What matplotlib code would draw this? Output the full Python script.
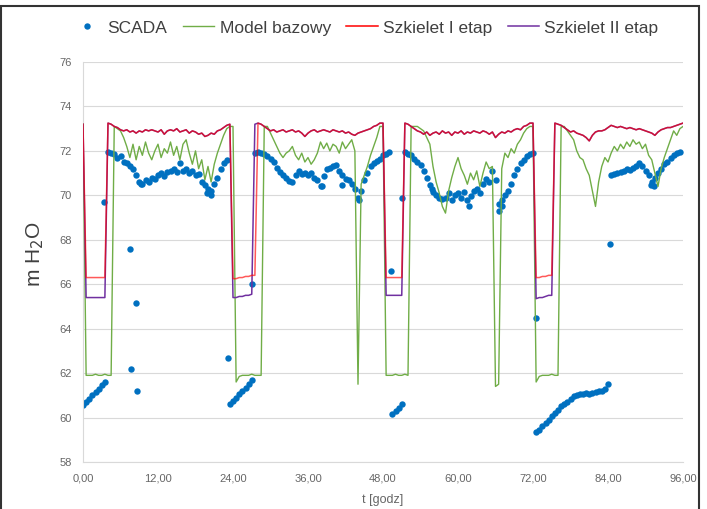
import numpy as np
import matplotlib.pyplot as plt
from matplotlib.patches import Rectangle
from matplotlib.lines import Line2D

plt.rcParams["font.family"] = ["Liberation Sans", "DejaVu Sans"]

# time axis, 30 min step
hours = np.arange(0, 96.5, 0.5)

# SCADA measurements (m H2O)
scada = [
    60.55, 60.7, 60.85, 61.0, 61.15, 61.3, 61.45, 61.6, 71.95, 71.9, 71.85, 71.7,
    71.75, 71.5, 71.45, 71.3, 71.2, 70.9, 70.6, 70.5, 70.7, 70.6, 70.8, 70.75,
    70.9, 71.0, 70.85, 71.05, 71.1, 71.2, 71.05, 71.45, 71.1, 71.2, 71.0, 71.1,
    70.9, 70.95, 70.6, 70.45, 70.3, 70.2, 70.5, 70.8, 71.2, 71.45, 71.6, 60.6,
    60.75, 60.9, 61.05, 61.2, 61.35, 61.5, 61.7, 71.9, 71.95, 71.9, 71.85, 71.75,
    71.65, 71.5, 71.25, 71.05, 70.9, 70.8, 70.65, 70.6, 70.9, 71.1, 70.95, 71.0,
    70.9, 71.0, 70.8, 70.7, 70.4, 70.85, 71.2, 71.25, 71.3, 71.35, 71.1, 70.9,
    70.75, 70.7, 70.5, 70.3, 69.9, 70.2, 70.7, 71.0, 71.3, 71.45, 71.55, 71.65,
    71.8, 71.85, 71.95, 60.15, 60.3, 60.45, 60.6, 71.95, 71.85, 71.8, 71.65, 71.5,
    71.35, 71.1, 70.8, 70.45, 70.15, 70.0, 69.9, 69.85, 69.9, 70.1, 69.8, 70.0,
    70.1, 69.9, 70.15, 69.8, 69.95, 70.2, 70.3, 70.1, 70.5, 70.75, 70.6, 71.1,
    70.7, 69.6, 69.8, 70.0, 70.2, 70.5, 70.9, 71.2, 71.45, 71.6, 71.75, 71.85,
    71.9, 59.35, 59.45, 59.6, 59.75, 59.9, 60.05, 60.2, 60.35, 60.5, 60.6, 60.7,
    60.85, 60.95, 61.0, 61.05, 61.05, 61.1, 61.05, 61.1, 61.15, 61.2, 61.2, 61.3,
    61.5, 70.9, 70.95, 71.0, 71.05, 71.1, 71.2, 71.15, 71.25, 71.3, 71.45, 71.3,
    71.1, 70.9, 70.6, 70.8, 71.0, 71.2, 71.4, 71.5, 71.7, 71.8, 71.9, 71.95,
    np.nan,
]
# single SCADA readings
scada_extra_t = [3.4, 7.5, 7.7, 8.4, 8.7, 9.2, 19.8, 20.4, 23.2, 27.1, 38.3, 41.5,
                 44.2, 49.2, 51.0, 55.8, 61.8, 66.6, 67.0, 72.4, 84.3, 90.8, 91.3]
scada_extra_v = [69.7, 67.6, 62.2, 65.15, 61.2, 70.5, 70.1, 70.0, 62.7, 66.0, 70.4, 70.45,
                 69.8, 66.6, 69.9, 70.3, 69.5, 69.3, 69.5, 64.5, 67.8, 70.45, 70.4]

model_bazowy = [
    73.2, 61.9, 61.9, 61.9, 61.95, 61.9, 61.9, 61.95, 61.9, 61.9, 73.1, 73.0,
    72.9, 72.6, 72.2, 71.7, 72.3, 71.6, 72.2, 71.8, 72.4, 71.9, 71.6, 72.0,
    72.3, 71.7, 72.1, 71.9, 72.4, 71.8, 72.2, 71.6, 72.3, 72.5, 71.9, 71.4,
    72.0, 71.2, 71.6, 70.7, 71.3, 70.6, 71.4, 71.9, 72.3, 72.7, 73.0, 73.1,
    73.1, 61.6, 61.85, 61.9, 61.9, 61.9, 61.95, 61.9, 61.9, 61.9, 73.1, 73.1,
    72.8, 72.5, 72.2, 71.9, 71.7, 71.9, 72.0, 72.2, 71.8, 71.6, 71.9, 71.5,
    71.7, 71.4, 71.6, 71.9, 72.4, 72.1, 72.35, 72.0, 72.3, 72.2, 71.9, 72.4,
    72.1, 72.3, 72.5, 72.0, 61.5, 70.5, 70.9, 71.3, 71.8, 72.2, 72.6, 73.1,
    73.1, 61.9, 61.9, 61.9, 61.95, 61.9, 61.9, 61.95, 61.9, 73.1, 73.1, 73.1,
    73.0, 72.9, 72.6, 72.3, 71.3, 70.6, 70.1, 69.5, 69.2, 70.2, 70.8, 71.3,
    71.7, 71.2, 70.9, 70.5, 71.0, 70.7, 71.1, 70.4, 71.0, 71.5, 71.2, 71.3,
    61.4, 61.5, 71.2, 71.9, 71.7, 72.1, 71.9, 72.3, 72.5, 72.8, 73.0, 73.1,
    73.1, 61.6, 61.85, 61.9, 61.9, 61.9, 61.95, 61.9, 61.9, 73.1, 73.1, 72.9,
    72.7, 72.5, 72.0, 71.7, 71.6, 71.2, 70.9, 70.2, 69.5, 70.6, 71.3, 71.7,
    71.5, 71.9, 72.2, 72.0, 72.3, 72.1, 72.4, 72.2, 72.5, 72.3, 72.4, 72.1,
    72.3, 71.8, 71.6, 71.0, 70.4, 71.2, 71.7, 72.1, 72.5, 72.9, 72.7, 73.0,
    73.1,
]

szkielet_1 = [
    73.2, 66.3, 66.3, 66.3, 66.3, 66.3, 66.3, 66.3, 73.25, 73.2, 73.1, 73.05,
    72.95, 72.9, 72.95, 72.85, 72.9, 72.8, 72.9, 72.85, 72.95, 72.9, 72.95, 72.9,
    72.85, 72.95, 72.75, 72.9, 72.95, 72.9, 73.0, 72.85, 72.9, 72.95, 72.8, 72.9,
    72.85, 72.75, 72.8, 72.65, 72.7, 72.8, 72.75, 72.9, 72.95, 73.05, 73.15, 73.2,
    66.25, 66.25, 66.3, 66.3, 66.35, 66.35, 66.4, 66.4, 73.25, 73.2, 73.1, 73.0,
    72.9, 72.95, 72.85, 72.9, 72.95, 72.85, 72.9, 72.95, 72.85, 72.9, 72.8, 72.65,
    72.8, 72.9, 72.95, 72.85, 72.9, 72.95, 72.9, 72.85, 72.95, 72.9, 72.85, 72.9,
    72.8, 72.85, 72.75, 72.7, 72.8, 72.85, 72.9, 72.95, 73.0, 73.1, 73.15, 73.25,
    73.25, 66.3, 66.3, 66.3, 66.3, 66.3, 66.3, 73.25, 73.2, 73.1, 73.0, 72.9,
    72.85, 72.75, 72.85, 72.7, 72.8, 72.85, 72.75, 72.9, 72.8, 72.85, 72.7, 72.85,
    72.8, 72.9, 72.75, 72.85, 72.8, 72.9, 72.85, 72.8, 72.9, 72.85, 72.75, 72.85,
    72.6, 72.75, 72.85, 72.8, 72.9, 72.85, 72.95, 73.0, 72.95, 73.1, 73.15, 73.25,
    73.25, 66.3, 66.3, 66.35, 66.35, 66.4, 66.4, 73.25, 73.2, 73.15, 73.05, 72.95,
    72.85, 72.9, 72.8, 72.75, 72.7, 72.6, 72.45, 72.7, 72.85, 72.9, 72.9, 72.95,
    73.05, 73.15, 73.1, 73.05, 73.1, 73.05, 73.0, 73.05, 73.0, 72.95, 73.0, 72.95,
    72.9, 72.85, 72.8, 72.7, 72.85, 72.95, 73.0, 73.05, 73.05, 73.1, 73.15, 73.2,
    73.25,
]

szkielet_2 = [
    73.2, 65.4, 65.4, 65.4, 65.4, 65.4, 65.4, 65.4, 73.25, 73.2, 73.1, 73.05,
    72.95, 72.9, 72.95, 72.85, 72.9, 72.8, 72.9, 72.85, 72.95, 72.9, 72.95, 72.9,
    72.85, 72.95, 72.75, 72.9, 72.95, 72.9, 73.0, 72.85, 72.9, 72.95, 72.8, 72.9,
    72.85, 72.75, 72.8, 72.65, 72.7, 72.8, 72.75, 72.9, 72.95, 73.05, 73.15, 73.2,
    65.4, 65.4, 65.45, 65.45, 65.5, 65.5, 65.55, 73.2, 73.25, 73.2, 73.1, 73.0,
    72.9, 72.95, 72.85, 72.9, 72.95, 72.85, 72.9, 72.95, 72.85, 72.9, 72.8, 72.65,
    72.8, 72.9, 72.95, 72.85, 72.9, 72.95, 72.9, 72.85, 72.95, 72.9, 72.85, 72.9,
    72.8, 72.85, 72.75, 72.7, 72.8, 72.85, 72.9, 72.95, 73.0, 73.1, 73.15, 73.25,
    73.25, 65.5, 65.5, 65.5, 65.5, 65.5, 65.5, 73.25, 73.2, 73.1, 73.0, 72.9,
    72.85, 72.75, 72.85, 72.7, 72.8, 72.85, 72.75, 72.9, 72.8, 72.85, 72.7, 72.85,
    72.8, 72.9, 72.75, 72.85, 72.8, 72.9, 72.85, 72.8, 72.9, 72.85, 72.75, 72.85,
    72.6, 72.75, 72.85, 72.8, 72.9, 72.85, 72.95, 73.0, 72.95, 73.1, 73.15, 73.25,
    73.25, 65.35, 65.4, 65.4, 65.45, 65.5, 65.5, 73.25, 73.2, 73.15, 73.05, 72.95,
    72.85, 72.9, 72.8, 72.75, 72.7, 72.6, 72.45, 72.7, 72.85, 72.9, 72.9, 72.95,
    73.05, 73.15, 73.1, 73.05, 73.1, 73.05, 73.0, 73.05, 73.0, 72.95, 73.0, 72.95,
    72.9, 72.85, 72.8, 72.7, 72.85, 72.95, 73.0, 73.05, 73.05, 73.1, 73.15, 73.2,
    73.25,
]

x_ticks = [0, 12, 24, 36, 48, 60, 72, 84, 96]
y_ticks = [58, 60, 62, 64, 66, 68, 70, 72, 74, 76]

blue = "#0070c0"
green = "#70ad47"
red = "#ff0000"
purple = "#7030a0"
grey = "#666666"

fig = plt.figure(figsize=(7.07, 5.09), dpi=100)
ax = fig.add_axes([83 / 707, 47 / 509, 600 / 707, 400 / 509])

ax.plot(hours, scada, "o", color=blue, ms=4.6, mec="none", zorder=2)
ax.plot(scada_extra_t, scada_extra_v, "o", color=blue, ms=4.6, mec="none", zorder=2)
ax.plot(hours, model_bazowy, color=green, lw=1.0, zorder=3)
ax.plot(hours, szkielet_2, color=purple, lw=1.1, zorder=4)
ax.plot(hours, szkielet_1, color=red, lw=1.1, alpha=0.65, zorder=5)

ax.set_xlim(0, 96)
ax.set_ylim(58, 76)
ax.set_xticks(x_ticks)
ax.set_xticklabels([f"{v},00" for v in x_ticks])
ax.set_yticks(y_ticks)
ax.grid(axis="y", color="#d9d9d9", lw=0.8)
ax.set_axisbelow(True)
for side in ["top", "right"]:
    ax.spines[side].set_visible(False)
for side in ["left", "bottom"]:
    ax.spines[side].set_color("#d9d9d9")
    ax.spines[side].set_linewidth(0.8)
ax.tick_params(length=0, labelsize=8, labelcolor=grey, pad=8)

handles = [
    Line2D([], [], ls="none", marker="o", ms=4.6, color=blue, mec="none"),
    Line2D([], [], color=green, lw=1.0),
    Line2D([], [], color=red, lw=1.1),
    Line2D([], [], color=purple, lw=1.1),
]
labels = ["SCADA", "Model bazowy", "Szkielet I etap", "Szkielet II etap"]
fig.legend(handles, labels, loc="center", bbox_to_anchor=(0.516, 0.945), ncol=4,
           frameon=False, fontsize=12.5, handlelength=1.8, handletextpad=0.3,
           columnspacing=0.9, numpoints=1, labelcolor="#404040")

fig.text(0.05, 0.5, "m H$_2$O", rotation=90, ha="center", va="center",
         fontsize=15, color="#404040")
fig.text(383 / 707, 1 - 500 / 509, "t [godz]", ha="center", va="center",
         fontsize=9, color=grey)

fig.patches.append(Rectangle((1 / 707, -0.1), 698 / 707, 1.088, transform=fig.transFigure,
                             fill=False, edgecolor="#333333", lw=1.5))

fig.savefig("out.png", dpi=100)
